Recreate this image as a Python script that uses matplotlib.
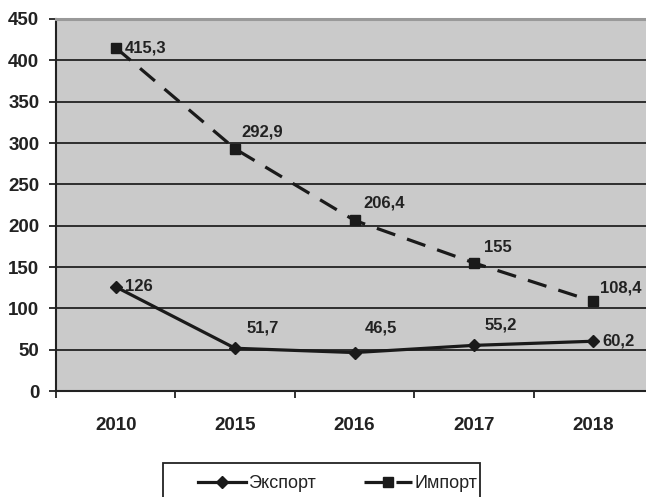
import matplotlib
matplotlib.use("Agg")
import matplotlib.pyplot as plt
from matplotlib.lines import Line2D
from matplotlib.patches import Rectangle

plt.rcParams['font.family'] = ['Liberation Sans', 'DejaVu Sans']
plt.rcParams['lines.scale_dashes'] = False

years = ['2010', '2015', '2016', '2017', '2018']
export = [126, 51.7, 46.5, 55.2, 60.2]
imports = [415.3, 292.9, 206.4, 155, 108.4]
export_lbl = ['126', '51,7', '46,5', '55,2', '60,2']
import_lbl = ['415,3', '292,9', '206,4', '155', '108,4']

# label offsets in pixels (style, not data)
exp_off = [(9, 0), (11, 20), (10, 25), (11, 20), (9, 0)]
imp_off = [(9, 0), (6, 17), (9, 17), (10, 15), (7, 13)]

txt = '#222222'
dash = (14, 9)
fig = plt.figure(figsize=(6.46, 4.97), dpi=100)
ax = fig.add_axes([56/646, 106/497, 597/646, 372/497])
ax.set_facecolor('#cacaca')

x = list(range(len(years)))
ax.plot(x, export, color='#1a1a1a', lw=2.3, marker='D', ms=6, zorder=3)
ax.plot(x, imports, color='#1a1a1a', lw=2.3, dashes=dash, marker='s', ms=7, zorder=3)

for i in x:
    ax.annotate(export_lbl[i], (i, export[i]), xytext=exp_off[i], textcoords='offset pixels',
                ha='left', va='center', fontsize=12, fontweight='bold', color=txt)
    ax.annotate(import_lbl[i], (i, imports[i]), xytext=imp_off[i], textcoords='offset pixels',
                ha='left', va='center', fontsize=12, fontweight='bold', color=txt)

ax.set_xlim(-0.5, len(years) - 0.5)
ax.set_ylim(0, 450)
ax.set_yticks(range(0, 451, 50))
ax.yaxis.grid(True, color='#222222', lw=1.3)
ax.set_axisbelow(True)

ax.set_xticks(x)
ax.set_xticklabels(years)
ax.set_xticks([i + 0.5 for i in range(-1, len(years))], minor=True)
ax.tick_params(axis='x', which='major', length=0, pad=19, labelsize=13.5, labelcolor=txt)
ax.tick_params(axis='x', which='minor', length=5, width=1.3, direction='out', color='#222222')
ax.tick_params(axis='y', length=5, width=1.3, pad=7, labelsize=13.5, labelcolor=txt, color='#222222')
for lab in ax.get_xticklabels() + ax.get_yticklabels():
    lab.set_fontweight('bold')

ax.spines['right'].set_visible(False)
ax.spines['top'].set_color('#999999')
ax.spines['top'].set_linewidth(2.2)
ax.spines['left'].set_color('#222222')
ax.spines['left'].set_linewidth(1.5)
ax.spines['bottom'].set_color('#222222')
ax.spines['bottom'].set_linewidth(1.5)

handles = [
    Line2D([], [], color='#1a1a1a', lw=2.3, marker='D', ms=6),
    Line2D([], [], color='#1a1a1a', lw=2.3, dashes=dash, marker='s', ms=7),
]
fig.legend(handles, ['Экспорт', 'Импорт'], loc='center left', ncol=2,
           bbox_to_anchor=(189/646, 1 - 484/497), bbox_transform=fig.transFigure,
           frameon=False, borderpad=0, handlelength=2.66, handletextpad=0.1,
           columnspacing=2.7, fontsize=13, labelcolor=txt)
fig.add_artist(Rectangle((163/646, -0.1), (480 - 163)/646, 0.1 + 1 - 463/497,
                         transform=fig.transFigure, fill=False, ec='#222222', lw=1.3))

fig.savefig('out.png', dpi=100)
